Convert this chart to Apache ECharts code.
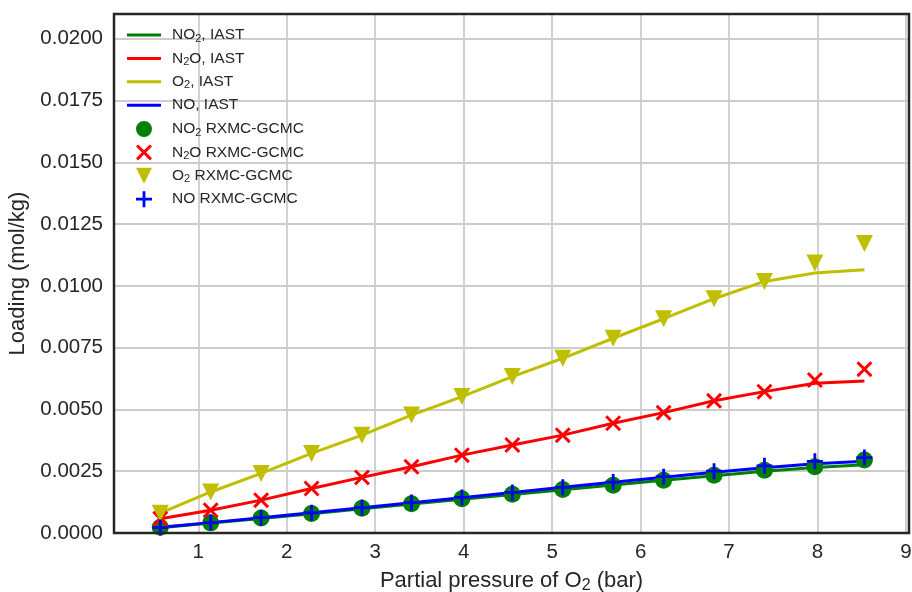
<!DOCTYPE html>
<html><head><meta charset="utf-8">
<script src="https://cdn.jsdelivr.net/npm/echarts@6/dist/echarts.min.js"></script>
<style>html,body{margin:0;padding:0;background:#fff;width:100%;height:100%;overflow:hidden}#c{width:912px;height:592px;display:block}</style>
</head><body><div id="c"></div>
<script>
// ---- data ----
const pressure = [0.57, 1.14, 1.71, 2.28, 2.85, 3.41, 3.98, 4.55, 5.12, 5.69, 6.26, 6.83, 7.40, 7.97, 8.53];

const no2Iast = [0.00021, 0.00040, 0.00059, 0.00078, 0.00098, 0.00117, 0.00137, 0.00156, 0.00175, 0.00194, 0.00213, 0.00232, 0.00250, 0.00265, 0.00276];
const n2oIast = [0.00058, 0.00092, 0.00133, 0.00180, 0.00225, 0.00268, 0.00315, 0.00356, 0.00396, 0.00444, 0.00487, 0.00535, 0.00572, 0.00606, 0.00615];
const o2Iast  = [0.00080, 0.00166, 0.00241, 0.00322, 0.00396, 0.00477, 0.00552, 0.00633, 0.00707, 0.00788, 0.00867, 0.00948, 0.01018, 0.01052, 0.01065];
const noIast  = [0.00023, 0.00042, 0.00062, 0.00082, 0.00102, 0.00122, 0.00143, 0.00164, 0.00185, 0.00205, 0.00226, 0.00246, 0.00264, 0.00280, 0.00290];

const no2Rxmc = [0.00023, 0.00041, 0.00061, 0.00079, 0.00100, 0.00118, 0.00139, 0.00157, 0.00176, 0.00193, 0.00213, 0.00234, 0.00254, 0.00268, 0.00295];
const n2oRxmc = [0.00058, 0.00092, 0.00133, 0.00180, 0.00225, 0.00268, 0.00315, 0.00356, 0.00396, 0.00444, 0.00487, 0.00535, 0.00572, 0.00619, 0.00663];
const o2Rxmc  = [0.00080, 0.00166, 0.00241, 0.00322, 0.00396, 0.00477, 0.00552, 0.00633, 0.00707, 0.00788, 0.00867, 0.00948, 0.01018, 0.01092, 0.01171];
const noRxmc  = [0.00022, 0.00042, 0.00062, 0.00082, 0.00103, 0.00123, 0.00144, 0.00164, 0.00185, 0.00206, 0.00228, 0.00250, 0.00272, 0.00290, 0.00305];

const xTicks = [1, 2, 3, 4, 5, 6, 7, 8, 9];
const yTicks = [0, 0.0025, 0.005, 0.0075, 0.01, 0.0125, 0.015, 0.0175, 0.02];

const lineNames = ['NO2, IAST', 'N2O, IAST', 'O2, IAST', 'NO, IAST'];
const markNames = ['NO2 RXMC-GCMC', 'N2O RXMC-GCMC', 'O2 RXMC-GCMC', 'NO RXMC-GCMC'];
// ------------------------------------------------

const FONT = 'Liberation Sans, Arial, sans-serif';
const TXT = '#262626';
const colors = ['#008000', '#ff0000', '#bfbf00', '#0000ff'];

// chart marker shapes
const shapeX = 'M0,2.1 L2.1,0 L8,5.9 L13.9,0 L16,2.1 L10.1,8 L16,13.9 L13.9,16 L8,10.1 L2.1,16 L0,13.9 L5.9,8 Z';
const shapeTri = 'M0,0 L17,0 L8.5,17 Z';
const shapePlus = 'M6.6,0 L9.4,0 L9.4,6.6 L16,6.6 L16,9.4 L9.4,9.4 L9.4,16 L6.6,16 L6.6,9.4 L0,9.4 L0,6.6 L6.6,6.6 Z';
const symbols = ['circle', 'path://' + shapeX, 'path://' + shapeTri, 'path://' + shapePlus];
const symSizes = [17, 16, 17, 16];

// legend icons: shapes placed in a 34x16 box (corner points keep the box)
const box = 'M0,0 L0,0 Z M34,16 L34,16 Z ';
const shift = (d, dx, dy) => d.replace(/(-?[\d.]+),(-?[\d.]+)/g, (m, a, b) => (+a + dx).toFixed(2) + ',' + (+b + dy).toFixed(2));
const legIcons = [
  'path://' + box + 'M9,8 A8,8 0 1,0 25,8 A8,8 0 1,0 9,8 Z',
  'path://' + box + shift(shapeX, 9, 0),
  'path://' + box + shift('M0,0 L16,0 L8,16 Z', 9, 0),
  'path://' + box + shift(shapePlus, 9, 0)
];
const lineIcon = 'path://M0,0 L34,0 L34,3 L0,3 Z';

const lineData = [no2Iast, n2oIast, o2Iast, noIast];
const markData = [no2Rxmc, n2oRxmc, o2Rxmc, noRxmc];
const pair = arr => pressure.map((x, i) => [x, arr[i]]);

const subFmt = name => name.replace(/([A-Z])2/g, '$1{sub|2}');

const series = [];
lineNames.forEach((n, i) => series.push({
  name: n, type: 'line', data: pair(lineData[i]), symbol: 'none',
  lineStyle: { width: 3, color: colors[i] }, itemStyle: { color: colors[i] },
  z: 2, animation: false
}));
markNames.forEach((n, i) => series.push({
  name: n, type: 'scatter', data: pair(markData[i]), symbol: symbols[i],
  symbolSize: symSizes[i], itemStyle: { color: colors[i], opacity: 1 },
  z: 3, animation: false, clip: false
}));

const legendText = {
  fontSize: 15.5, color: TXT, fontFamily: FONT, lineHeight: 18, padding: [0, 0, 0, 6],
  rich: { sub: { fontSize: 11, lineHeight: 11, verticalAlign: 'bottom', fontFamily: FONT, color: TXT } }
};

const chart = echarts.init(document.getElementById('c'), null, { renderer: 'canvas', width: 912, height: 592 });
chart.setOption({
  animation: false,
  backgroundColor: '#ffffff',
  grid: { left: 114, right: 3, top: 14, bottom: 59, show: true, borderColor: '#262626', borderWidth: 2.5,
    backgroundColor: 'transparent', containLabel: false, outerBoundsMode: 'none', z: 10 },
  legend: [
    { orient: 'vertical', left: 127, top: 26, padding: 0, itemGap: 5.4, itemWidth: 34, itemHeight: 16,
      data: lineNames.map(n => ({ name: n, icon: lineIcon })), formatter: subFmt, textStyle: legendText, selectedMode: false },
    { orient: 'vertical', left: 127, top: 120, padding: 0, itemGap: 5.4, itemWidth: 34, itemHeight: 16,
      data: markNames.map((n, i) => ({ name: n, icon: legIcons[i] })), formatter: subFmt, textStyle: legendText, selectedMode: false }
  ],
  xAxis: {
    type: 'value', min: 0.047, max: 9.034,
    axisLine: { show: false },
    axisTick: { show: false, customValues: xTicks },
    axisLabel: { customValues: xTicks, fontSize: 20.5, color: TXT, fontFamily: FONT, margin: 9 },
    splitLine: { show: true, lineStyle: { color: '#cccccc', width: 1.8 } },
    name: 'Partial pressure of O{sub|2} (bar)', nameLocation: 'middle', nameGap: 35,
    nameTextStyle: { fontSize: 22, color: TXT, fontFamily: FONT, lineHeight: 26,
      rich: { sub: { fontSize: 16, lineHeight: 16, verticalAlign: 'bottom', fontFamily: FONT, color: TXT } } }
  },
  yAxis: {
    type: 'value', min: 0, max: 0.021,
    axisLine: { show: false },
    axisTick: { show: false, customValues: yTicks },
    axisLabel: { customValues: yTicks, fontSize: 20.5, color: TXT, fontFamily: FONT, margin: 11,
      formatter: v => v.toFixed(4) },
    splitLine: { show: true, lineStyle: { color: '#cccccc', width: 1.8 } },
    name: 'Loading (mol/kg)', nameLocation: 'middle', nameGap: 85, nameRotate: 90,
    nameTextStyle: { fontSize: 22, color: TXT, fontFamily: FONT }
  },
  series: series
});
</script>
</body></html>
